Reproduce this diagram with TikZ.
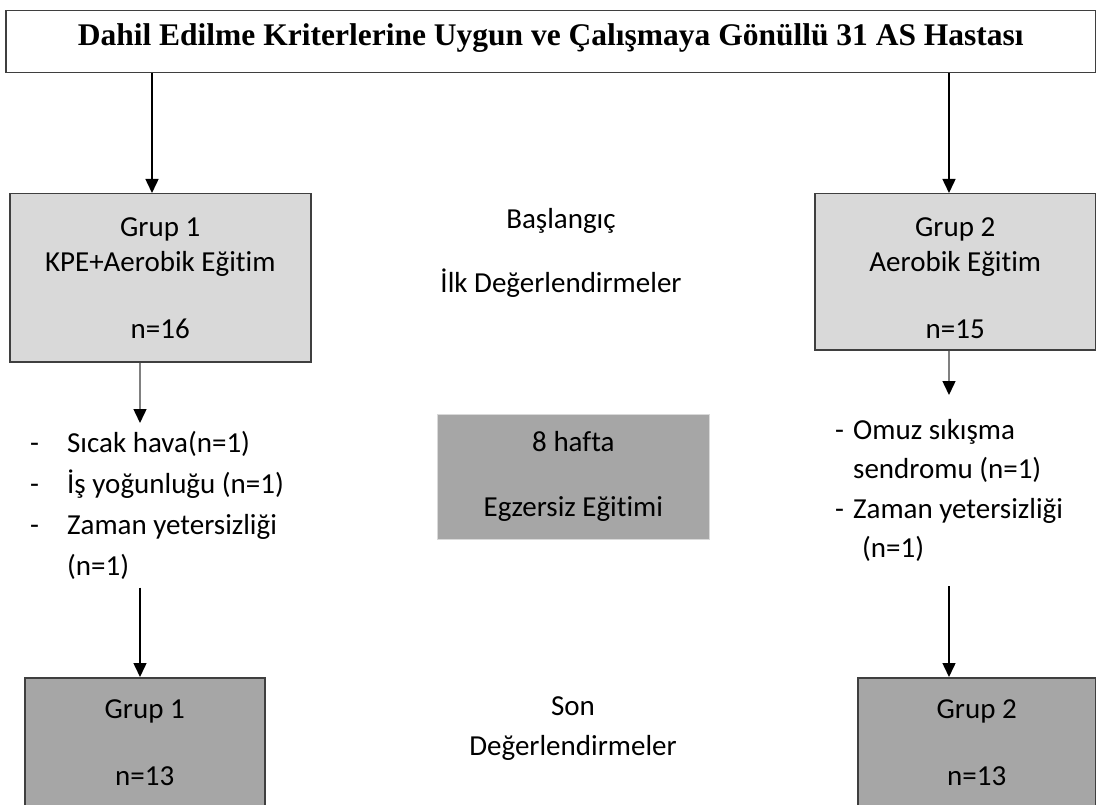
\documentclass[tikz,border=0pt]{standalone}
\usepackage{fontspec}
\setmainfont{Carlito}[Ligatures=NoCommon]
\newfontfamily\titlefont{Liberation Serif}
\usetikzlibrary{arrows.meta}

\definecolor{lightbox}{HTML}{D9D9D9}
\definecolor{darkbox}{HTML}{A6A6A6}
\definecolor{edge}{HTML}{3F3F3F}

\tikzset{
    grupbox/.style={draw=edge, line width=1.5pt, align=center, inner sep=0pt, anchor=north west},
    liste/.style={align=left, anchor=north west, inner xsep=0pt},
    arr/.style={-{Triangle[width=13pt,length=14pt,color=black]}, line width=1.5pt},
}

\begin{document}
\begin{tikzpicture}[x=1pt, y=-1pt, font=\fontsize{29}{35}\selectfont]
    \useasboundingbox (0,0) rectangle (1096,805);
    % ust kutu
    \node[grupbox, fill=white, minimum width=1090pt, minimum height=62pt, text height=22pt, text depth=14pt,
          font=\titlefont\bfseries\fontsize{31.5}{35}\selectfont] (top) at (5,10)
          {Dahil Edilme Kriterlerine Uygun ve Çalışmaya Gönüllü 31 AS Hastası};
    % gruplar
    \node[grupbox, fill=lightbox, minimum width=301pt, minimum height=168pt] (g1) at (9,193) {Grup 1\\KPE+Aerobik Eğitim\\[32pt]n=16};
    \node[grupbox, fill=lightbox, minimum width=281pt, minimum height=156pt] (g2) at (814,193) {\rule{0pt}{31pt}Grup 2\\Aerobik Eğitim\\[32pt]n=15};
    \node[align=center] (bas) at (561,253) {Başlangıç\\[29pt]İlk Değerlendirmeler};
    % ayrilanlar
    \node[liste, inner ysep=8pt, font=\fontsize{29}{41}\selectfont] (l1) at (30,423)
          {\makebox[37pt][l]{-}Sıcak hava(n=1)\\\makebox[37pt][l]{-}İş yoğunluğu (n=1)\\\makebox[37pt][l]{-}Zaman yetersizliği\\\hspace*{37pt}(n=1)};
    \node[liste, inner ysep=24pt, font=\fontsize{29}{39.5}\selectfont] (l2) at (835,395)
          {\makebox[18pt][l]{-}Omuz sıkışma\\\hspace*{18pt}sendromu (n=1)\\\makebox[18pt][l]{-}Zaman yetersizliği\\\hspace*{27pt}(n=1)};
    \node[fill=darkbox, draw=lightbox, line width=0.8pt, minimum width=272pt, minimum height=125pt, anchor=north west, align=center] (mid) at (437,414)
          {8 hafta\\[30pt]Egzersiz Eğitimi};
    % son
    \node[grupbox, fill=darkbox, minimum width=240pt, minimum height=130pt] (b1) at (24,677) {Grup 1\\[32pt]n=13};
    \node[grupbox, fill=darkbox, minimum width=238pt, minimum height=130pt] (b2) at (857,677) {Grup 2\\[32pt]n=13};
    \node[align=center] (son) at (573,729) {Son\\[5pt]Değerlendirmeler};
    % oklar
    \coordinate (c1) at (152,0);
    \coordinate (c2) at (949,0);
    \coordinate (c3) at (140,0);
    \draw[arr] (top.south -| c1) -- (g1.north -| c1);
    \draw[arr] (top.south -| c2) -- (g2.north -| c2);
    \draw[arr, draw=gray] (g1.south -| c3) -- (l1.north -| c3);
    \draw[arr, draw=gray] (g2.south -| c2) -- (l2.north -| c2);
    \draw[arr] (l1.south -| c3) -- (b1.north -| c3);
    \draw[arr] (l2.south -| c2) -- (b2.north -| c2);
\end{tikzpicture}
\end{document}
